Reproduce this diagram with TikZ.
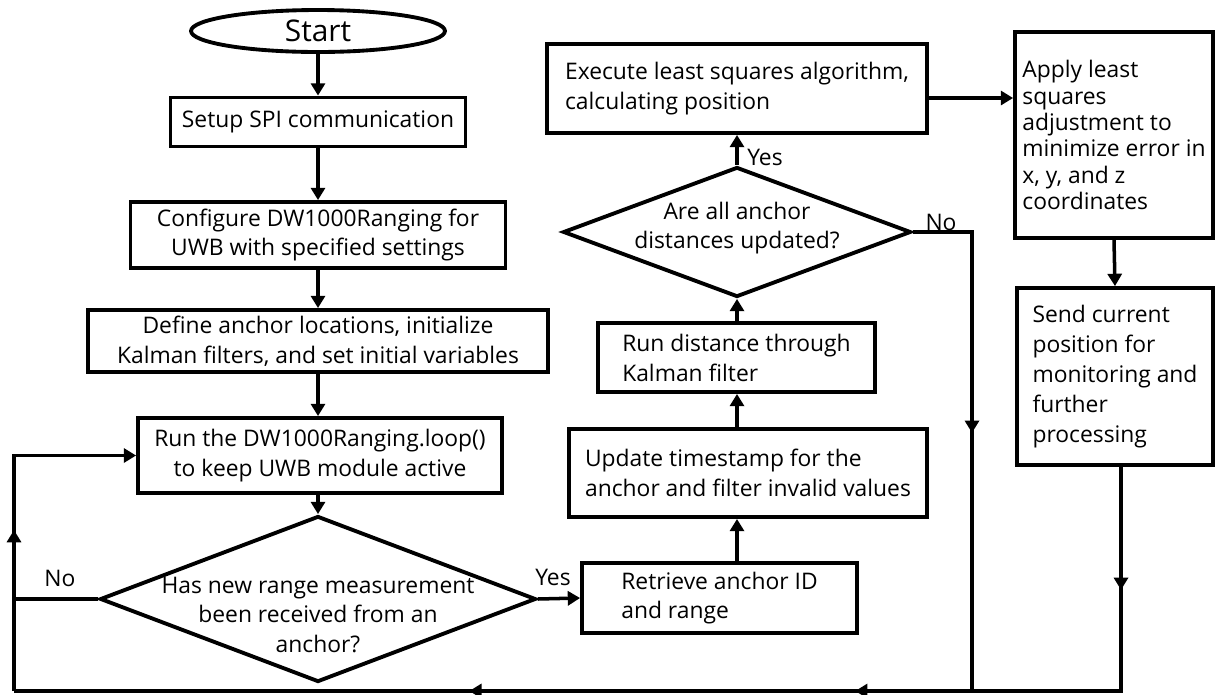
\documentclass[tikz,border=0pt]{standalone}
\usepackage{fontspec}
\setmainfont{Open Sans}
\usetikzlibrary{shapes.geometric, arrows.meta, positioning, decorations.markings}
\newcommand{\flowfont}{\fontsize{13}{17}\selectfont}

\begin{document}
\begin{tikzpicture}[
        x=0.02cm, y=-0.02cm,
        box/.style={rectangle, draw=black, line width=2.2pt, fill=white, align=center, inner sep=0pt, font=\flowfont},
        lbox/.style={box, align=left},
        term/.style={ellipse, draw=black, line width=2.2pt, inner sep=0pt, font=\fontsize{17}{20}\selectfont},
        decision/.style={diamond, draw=black, line width=2.2pt, inner sep=0pt},
        dtext/.style={align=center, font=\flowfont},
        lbl/.style={font=\flowfont},
        line/.style={line width=2pt},
        arrow/.style={line, -{Triangle[length=7pt, width=8pt]}},
        tipat/.style={postaction={decorate, decoration={markings, mark=at position #1 with {\arrow{Triangle[length=7pt, width=8pt]}}}}}
    ]
        \useasboundingbox (0,0) rectangle (1221,694);

        % Setup (Left)
        \node[term, minimum width=5.08cm, minimum height=0.84cm] (start) at (318,31) {Start};
        \node[box, minimum width=5.9cm, minimum height=0.98cm] (setup) at (318,122) {Setup SPI communication};
        \node[box, minimum width=7.5cm, minimum height=1.32cm] (config) at (318,235) {Configure DW1000Ranging for\\UWB with specified settings};
        \node[box, minimum width=9.2cm, minimum height=1.24cm] (define) at (318,341) {Define anchor locations, initialize\\Kalman filters, and set initial variables};
        \node[box, minimum width=7.28cm, minimum height=1.5cm] (runloop) at (320,455.5) {Run the DW1000Ranging.loop()\\to keep UWB module active};
        \node[decision, minimum width=8.72cm, minimum height=3.32cm,
            label={[dtext, yshift=-0.32cm]center:Has new range measurement\\been received from an\\anchor?}] (hasnew) at (318,599) {};

        % Ranging (Middle)
        \node[lbox, minimum width=5.5cm, minimum height=1.4cm] (retrieve) at (719.5,598) {Retrieve anchor ID\\and range};
        \node[lbox, minimum width=7.16cm, minimum height=1.76cm] (update) at (748,473) {Update timestamp for the\\anchor and filter invalid values};
        \node[lbox, minimum width=5.54cm, minimum height=1.38cm] (rundist) at (736.5,357.5) {Run distance through\\Kalman filter};
        \node[decision, minimum width=6.96cm, minimum height=2.6cm,
            label={[dtext, yshift=0.08cm]center:Are all anchor\\distances updated?}] (allupd) at (737,232) {};
        \node[lbox, minimum width=7.6cm, minimum height=1.78cm] (execute) at (737,88.5) {Execute least squares algorithm,\\calculating position};

        % Position (Right)
        \node[lbox, minimum width=3.96cm, minimum height=4.12cm, font=\fontsize{13}{15}\selectfont] (apply) at (1114,135) {Apply least\\squares\\adjustment to\\minimize error in\\x, y, and z\\coordinates};
        \node[lbox, minimum width=3.92cm, minimum height=3.54cm] (send) at (1115,376.5) {Send current\\position for\\monitoring and\\further\\processing};

        % Labels
        \node[lbl] (no1) at (60,578) {No};
        \node[lbl] (yes1) at (553,577) {Yes};
        \node[lbl] (yes2) at (765,157) {Yes};
        \node[lbl] (no2) at (941,222) {No};

        % Loop corners
        \coordinate (bl) at (14,691);
        \coordinate (bm) at (972,691);
        \coordinate (br) at (1121,691);

        % Connections
        \draw[arrow] (start) -- (setup);
        \draw[arrow] (setup) -- (config);
        \draw[arrow] (config) -- (define);
        \draw[arrow] (define.south) -- (define.south |- runloop.north);
        \draw[arrow] (runloop.south -| hasnew) -- (hasnew.north);
        \draw[arrow] (hasnew.east) -- (retrieve.west);
        \draw[arrow] (retrieve.north -| allupd) -- (update.south -| allupd);
        \draw[arrow] (update.north -| allupd) -- (rundist.south -| allupd);
        \draw[arrow] (rundist.north -| allupd) -- (allupd.south);
        \draw[arrow] (allupd.north) -- (execute.south -| allupd);
        \draw[arrow] ([yshift=-0.19cm]execute.east) -- ([yshift=-0.19cm]execute.east -| apply.west);
        \draw[arrow] (apply.south) -- (send.north);

        % Return paths
        \draw[line, tipat=2.46cm, tipat=9.8cm, tipat=17.52cm] (send.south -| br) -- (br) -- (bl);
        \draw[line, tipat=5.2cm] (allupd.east) -- (allupd.east -| bm) -- (bm);
        \draw[line] (hasnew.west) -- (hasnew.west -| bl);
        \draw[arrow, tipat=3.22cm] (bl) -- (bl |- runloop.west) -- (runloop.west);
    \end{tikzpicture}
\end{document}
